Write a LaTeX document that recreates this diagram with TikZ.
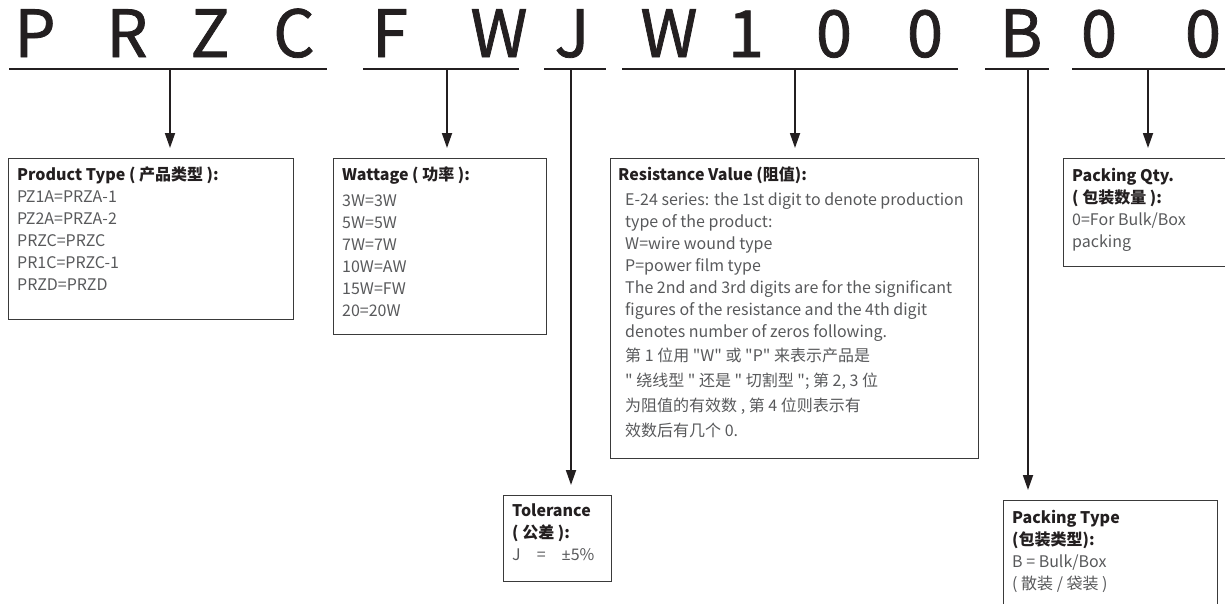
\documentclass[tikz,border=0pt]{standalone}
\usepackage{fontspec}
\setmainfont{Noto Sans CJK SC}[Ligatures=TeXOff]
\newfontfamily\bigfont{Noto Sans CJK SC}[FakeBold=1.2]
\newfontfamily\latinfont{Noto Sans}
\usepackage{tikz}
\usetikzlibrary{arrows.meta,positioning,calc}
\definecolor{ink}{HTML}{231F20}
\definecolor{body}{HTML}{58595B}
\definecolor{edge}{HTML}{3A3A3A}
\newcommand{\hd}[1]{{\bfseries\color{ink}#1}}

\begin{document}
\begin{tikzpicture}[x=1pt,y=-1pt, >={Triangle[length=15pt,width=10pt]},
  digit/.style={anchor=base,inner sep=0pt,text=ink,font=\bigfont\fontsize{65}{65}\selectfont},
  uline/.style={draw=ink,line width=1.8pt},
  arr/.style={draw=ink,line width=1.8pt,->,shorten >=10pt},
  panel/.style={draw=edge,line width=1.2pt,anchor=north west,inner sep=0pt},
  txt/.style={anchor=north west,inner sep=0pt,align=left,text=body,font=\fontsize{16}{22}\selectfont}]
\useasboundingbox (0,0) rectangle (1225,603);
\clip (0,0) rectangle (1225,603);
% part number
\foreach \ch/\x [count=\i] in {P/35,R/127,Z/210,C/294,F/390,W/499,J/572,W/669,1/746,0/834,0/925,B/1021,0/1099,0/1203}
  \node[digit] (d\i) at (\x,57) {\ch};
\draw[uline] (9,69) -- (327,69);
\draw[uline] (363,69) -- (519,69);
\draw[uline] (544,69) -- (606,69);
\draw[uline] (622,69) -- (958,69);
\draw[uline] (985,69) -- (1049,69);
\draw[uline] (1072,69) -- (1225,69);
\coordinate (tType) at (170,69);
\coordinate (tWatt) at (447,69);
\coordinate (tTol) at (571,69);
\coordinate (tRes) at (795,69);
\coordinate (tPack) at (1028,69);
\coordinate (tQty) at (1148,69);
% boxes
\node[panel,minimum width=285pt,minimum height=161pt] (ptype) at (8,158) {};
\node[panel,minimum width=213pt,minimum height=176pt] (watt) at (333,158) {};
\node[panel,minimum width=368pt,minimum height=300pt] (res) at (610,158) {};
\node[panel,minimum width=200pt,minimum height=108pt] (qty) at (1063,158) {};
\node[panel,minimum width=108pt,minimum height=86pt] (tol) at (503,495) {};
\node[panel,minimum width=214pt,minimum height=120pt] (pack) at (1003,500) {};
% texts
\node[txt] (ptypeT) at ($(ptype.north west)+(9,9)$) {\hd{Product Type ( 产品类型 ):}\\PZ1A=PRZA-1\\PZ2A=PRZA-2\\PRZC=PRZC\\PR1C=PRZC-1\\PRZD=PRZD};
\node[txt] (wattT) at ($(watt.north west)+(9,9)$) {\hd{Wattage ( 功率 ):}\\[4pt]3W=3W\\5W=5W\\7W=7W\\10W=AW\\15W=FW\\20=20W};
\node[txt] (resH) at ($(res.north west)+(8,9)$) {\hd{Resistance Value (阻值):}};
\node[txt] (resT) at ($(res.north west)+(15,35)$) {E-24 series: the 1st digit to denote production\\type of the product:\\W=wire wound type\\P=power film type\\The 2nd and 3rd digits are for the significant\\figures of the resistance and the 4th digit\\denotes number of zeros following.\\[2pt]第 1 位用 "W" 或 "P" 来表示产品是\\[3pt]" 绕线型 " 还是 " 切割型 "; 第 2, 3 位\\[3pt]为阻值的有效数 , 第 4 位则表示有\\[3pt]效数后有几个 0.};
\node[txt] (qtyT) at ($(qty.north west)+(9,10)$) {\hd{Packing Qty.}\\\hd{( 包装数量 ):}\\0=For Bulk/Box\\packing};
\node[txt] (tolT) at ($(tol.north west)+(9,9)$) {\hd{Tolerance}\\\hd{( 公差 ):}\\J\quad=\quad{\latinfont ±}5\%};
\node[txt] (packT) at ($(pack.north west)+(9,10)$) {\hd{Packing Type}\\\hd{(包装类型):}\\B = Bulk/Box\\( 散装 / 袋装 )};
% arrows
\draw[arr] (tType) -- (tType |- ptype.north);
\draw[arr] (tWatt) -- (tWatt |- watt.north);
\draw[arr] (tTol) -- (tTol |- tol.north);
\draw[arr] (tRes) -- (tRes |- res.north);
\draw[arr] (tPack) -- (tPack |- pack.north);
\draw[arr] (tQty) -- (tQty |- qty.north);
\end{tikzpicture}
\end{document}
